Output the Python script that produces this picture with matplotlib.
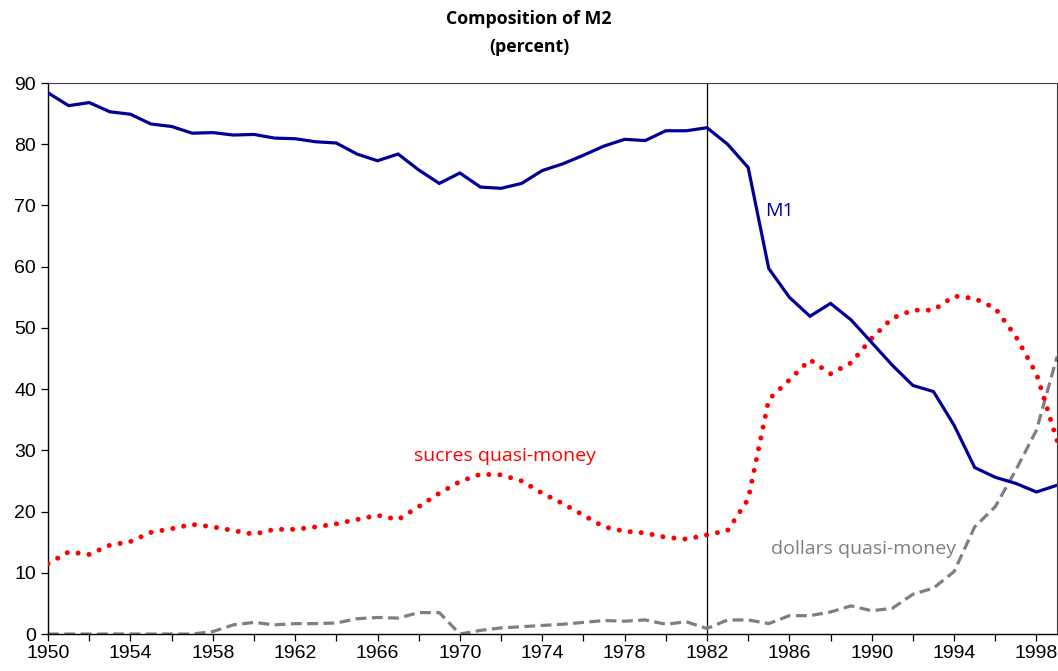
import matplotlib.pyplot as plt

years = list(range(1950, 2000))

m1 = [88.4, 86.3, 86.8, 85.3, 84.9, 83.3, 82.9, 81.8, 81.9, 81.5,
      81.6, 81.0, 80.9, 80.4, 80.2, 78.4, 77.3, 78.4, 75.8, 73.6,
      75.3, 73.0, 72.8, 73.6, 75.7, 76.8, 78.2, 79.7, 80.8, 80.6,
      82.2, 82.2, 82.7, 80.0, 76.2, 59.7, 55.0, 51.9, 54.0, 51.3,
      47.6, 43.9, 40.6, 39.6, 34.1, 27.2, 25.6, 24.6, 23.2, 24.3]

sucres = [11.5, 13.4, 13.0, 14.5, 15.1, 16.6, 17.2, 17.9, 17.5, 16.9,
          16.3, 17.1, 17.1, 17.5, 18.0, 18.7, 19.4, 18.7, 20.8, 23.0,
          24.9, 26.1, 26.0, 25.0, 23.0, 21.3, 19.4, 17.5, 16.8, 16.5,
          15.8, 15.5, 16.2, 16.9, 22.0, 38.3, 41.5, 44.8, 42.5, 44.3,
          48.3, 51.6, 52.9, 52.9, 55.2, 54.8, 53.2, 48.6, 42.5, 31.6]

dollars = [0.0, 0.0, 0.0, 0.0, 0.0, 0.0, 0.0, 0.0, 0.4, 1.5,
           1.9, 1.5, 1.7, 1.7, 1.8, 2.5, 2.7, 2.6, 3.5, 3.5,
           0.0, 0.6, 1.0, 1.2, 1.4, 1.6, 1.9, 2.2, 2.1, 2.3,
           1.6, 2.0, 0.9, 2.3, 2.3, 1.7, 3.0, 3.0, 3.6, 4.6,
           3.8, 4.2, 6.5, 7.5, 10.2, 17.5, 20.8, 26.8, 33.3, 45.3]

fig = plt.figure(figsize=(10.58, 6.71), dpi=100)
ax = fig.add_axes([0.0454, 0.0551, 0.9537, 0.8212])

ax.plot(years, dollars, color='#7f7f7f', lw=2.3, linestyle=(0, (3.4, 1.7)),
        dash_capstyle='butt', zorder=2)
ax.plot(years, sucres, color='#ff0000', lw=3.6, linestyle=(0, (0.01, 2.2)),
        dash_capstyle='round', zorder=3)
ax.plot(years, m1, color='#000099', lw=2.3, solid_joinstyle='miter', zorder=4)

ax.axvline(1982, color='black', lw=0.9, zorder=1)

ax.set_xlim(1950, 1999)
ax.set_ylim(0, 90)
ax.set_xticks(list(range(1950, 2000, 4)))
ax.set_xticks(list(range(1950, 2000, 2)), minor=True)
ax.set_yticks(list(range(0, 91, 10)))
ax.tick_params(axis='both', which='both', direction='out', labelsize=14,
               length=5, width=0.9, color='black')
ax.tick_params(axis='x', pad=3)
for lab in ax.get_xticklabels() + ax.get_yticklabels():
    lab.set_fontfamily('Liberation Sans')

for side in ['left', 'bottom']:
    ax.spines[side].set_color('black')
    ax.spines[side].set_linewidth(1.0)
for side in ['top', 'right']:
    ax.spines[side].set_color('#404040')
    ax.spines[side].set_linewidth(0.8)

# series labels
ax.text(1984.8, 68.3, 'M1', color='#000099', fontsize=14, family='Open Sans')
ax.text(1972.2, 28.2, 'sucres quasi-money', color='#ff0000', fontsize=14,
        family='Open Sans', ha='center')
ax.text(1985.1, 13.0, 'dollars quasi-money', color='#7f7f7f', fontsize=14,
        family='Open Sans')

fig.text(0.5, 0.985, 'Composition of M2\n(percent)', ha='center', va='top',
         fontsize=12.8, fontweight='bold', family='Open Sans', linespacing=1.7)

fig.savefig('out.png', dpi=100)
